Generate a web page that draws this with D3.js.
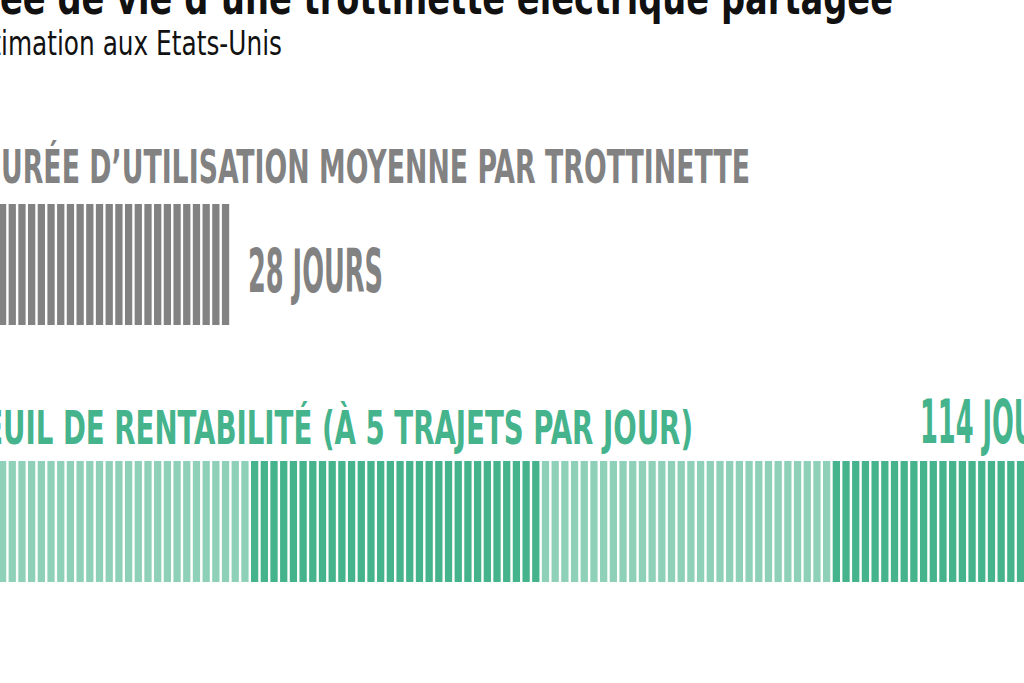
<!DOCTYPE html>
<html>
<head>
<meta charset="utf-8">
<script src="https://cdn.jsdelivr.net/npm/d3@7"></script>
<style>
  html, body { margin: 0; padding: 0; background: #fff; overflow: hidden; }
  svg { display: block; }
  text { font-family: "Liberation Sans Narrow", "DejaVu Sans Condensed", "Roboto", sans-serif; }
</style>
</head>
<body>
<svg id="chart" width="1024" height="683"></svg>
<script>
// data
var title = "Durée de vie d’une trottinette électrique partagée";
var subtitle = "Estimation aux Etats-Unis";
var categories = ["Durée d’utilisation moyenne par trottinette", "Seuil de rentabilité (à 5 trajets par jour)"];
var dayCounts = [28, 114];
var valueLabels = ["28 jours", "114 jours"];
var monthDays = 30;

var W = 1024, H = 683;
var grey = "#828282", greenDark = "#45b38b", greenLight = "#8fd1b8";

var svg = d3.select("#chart");

// one stripe per day, the chart is cropped on the left like the original
var pitch = 9.695;
var x0 = -39.85;
var x = d3.scaleLinear()
    .domain([0, d3.max(dayCounts)])
    .range([x0, x0 + d3.max(dayCounts) * pitch]);
var barW = pitch * 0.75;

var rows = [
    { barTop: 204, headBase: 183, color: grey },
    { barTop: 461, headBase: 444, color: greenDark }
];
var barH = 121;

// measure natural width of a string with given style
function measure(str, size, weight) {
    var t = svg.append("text")
        .attr("font-size", size)
        .attr("font-weight", weight)
        .text(str);
    var w = t.node().getComputedTextLength();
    t.remove();
    return w;
}

// draw full text, squeezed so that the visible suffix fills [left, right]
function fitted(full, visible, left, right, base, size, weight, color) {
    var wf = measure(full, size, weight);
    var wv = measure(visible, size, weight);
    var s = (right - left) / wv;
    svg.append("text")
        .attr("x", right - wf * s)
        .attr("y", base)
        .attr("font-size", size)
        .attr("font-weight", weight)
        .attr("fill", color)
        .attr("textLength", wf * s)
        .attr("lengthAdjust", "spacingAndGlyphs")
        .text(full);
}

// titles
fitted(title, title.slice(3), 0, 893, 14, 46, "bold", "#111");
fitted(subtitle, subtitle.slice(3), 1, 282, 55, 34, "normal", "#111");

// row headers
fitted(categories[0].toUpperCase(), categories[0].toUpperCase().slice(1), 1, 750, 183, 47, "bold", grey);
fitted(categories[1].toUpperCase(), categories[1].toUpperCase().slice(2), 3, 693, 444, 47, "bold", greenDark);

// stripes
dayCounts.forEach(function (n, r) {
    var g = svg.append("g").attr("class", "row-" + r);
    g.selectAll("rect")
        .data(d3.range(n))
        .enter().append("rect")
        .attr("x", function (d) { return x(d); })
        .attr("y", rows[r].barTop)
        .attr("width", barW)
        .attr("height", barH)
        .attr("fill", function (d) {
            if (r === 0) return grey;
            return Math.floor(d / monthDays) % 2 === 0 ? greenLight : greenDark;
        });
});

// value labels
var lab0 = valueLabels[0].toUpperCase(), lab1 = valueLabels[1].toUpperCase();
var sLab = 135 / measure(lab0, 61, "bold");
svg.append("text")
    .attr("x", 248).attr("y", 292)
    .attr("font-size", 61).attr("font-weight", "bold")
    .attr("fill", grey)
    .attr("textLength", 135)
    .attr("lengthAdjust", "spacingAndGlyphs")
    .text(lab0);
svg.append("text")
    .attr("x", 920).attr("y", 443)
    .attr("font-size", 61).attr("font-weight", "bold")
    .attr("fill", greenDark)
    .attr("textLength", measure(lab1, 61, "bold") * sLab)
    .attr("lengthAdjust", "spacingAndGlyphs")
    .text(lab1);
</script>
</body>
</html>
